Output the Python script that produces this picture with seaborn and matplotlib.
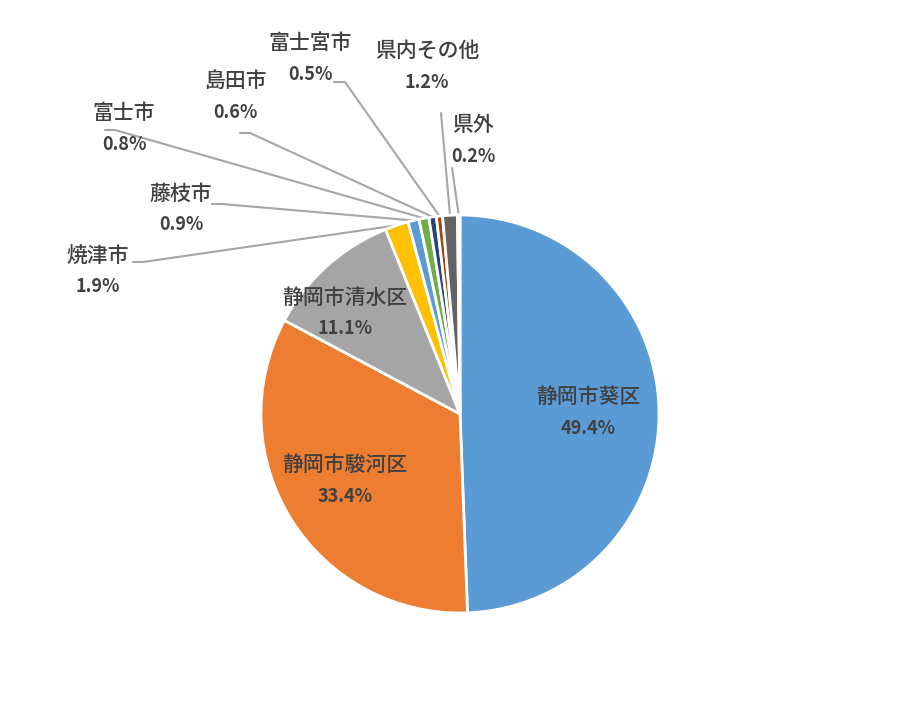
import matplotlib
matplotlib.use("Agg")
import matplotlib.pyplot as plt
import seaborn as sns
import numpy as np

# data
labels = ["静岡市葵区", "静岡市駿河区", "静岡市清水区", "焼津市", "藤枝市",
          "富士市", "島田市", "富士宮市", "県内その他", "県外"]
shares = [49.4, 33.4, 11.1, 1.9, 0.9, 0.8, 0.6, 0.5, 1.2, 0.2]
colors = ["#5B9BD5", "#ED7D31", "#A5A5A5", "#FFC000", "#5B9BD5",
          "#70AD47", "#264478", "#9E480E", "#636363", "#997300"]

# label layout in pixel coords (text centre of name line)
label_pos = [(588, 397), (345, 465), (345, 298), (98, 256), (181, 194),
             (124, 113), (235, 81), (310, 43), (427, 51), (473, 125)]
# leader line start / elbow for outside labels (pixels), None = inside
leader = [None, None, None,
          [(133, 262), (143, 262)],
          [(212, 204), (222, 204)],
          [(105, 130), (115, 130)],
          [(240, 133), (250, 133)],
          [(334, 82), (345, 82)],
          [(441, 113)],
          [(452, 168)]]

W, H = 905, 726
CX, CY, R = 460, 414, 199

sns.set_theme(style="white")
plt.rcParams['font.family'] = ['Noto Sans CJK JP', 'DejaVu Sans']

fig = plt.figure(figsize=(W / 100, H / 100), dpi=100)
ax = fig.add_axes([0, 0, 1, 1])

wedges, _ = ax.pie(shares, colors=sns.color_palette(colors), startangle=90,
                   counterclock=False, center=(CX, H - CY), radius=R,
                   wedgeprops=dict(edgecolor="white", linewidth=2))
ax.set_xlim(0, W)
ax.set_ylim(0, H)
ax.set_aspect("equal")
ax.axis("off")

txt_color = "#404040"
for w, lab, val, pos, ld in zip(wedges, labels, shares, label_pos, leader):
    x, y = pos
    ax.text(x, H - y, lab, ha="center", va="center", fontsize=15,
            color=txt_color, fontweight="medium")
    ax.text(x, H - y - 31, f"{val}%", ha="center", va="center", fontsize=13,
            color=txt_color, fontweight="bold")
    if ld is not None:
        mid = np.deg2rad((w.theta1 + w.theta2) / 2)
        ex = CX + R * np.cos(mid)
        ey = (H - CY) + R * np.sin(mid)
        xs = [p[0] for p in ld] + [ex]
        ys = [H - p[1] for p in ld] + [ey]
        ax.plot(xs, ys, color="#A6A6A6", lw=1.5, zorder=0.5)

fig.savefig("out.png", dpi=100, facecolor="white")
